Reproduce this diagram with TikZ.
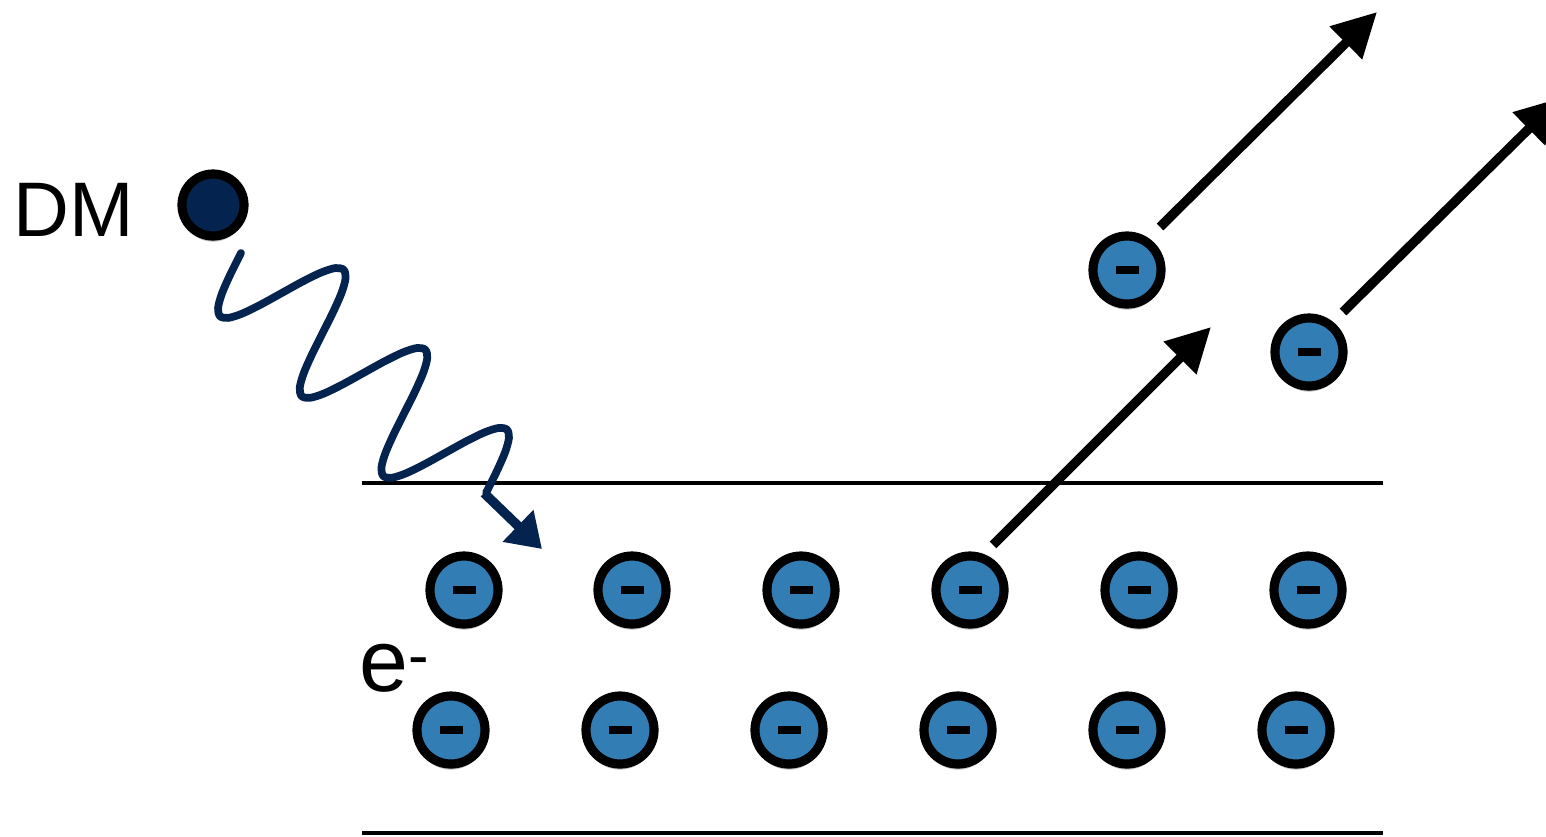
\documentclass[tikz,border=0pt]{standalone}
\usepackage{fontspec}
\setmainfont{Liberation Sans}
\usetikzlibrary{
    arrows.meta,
    shadows,
    calc
}
\definecolor{dmnavy}{HTML}{05234F}
\definecolor{eblue}{HTML}{327DB4}
\newcommand{\minusbar}{\rule{0.23cm}{0.085cm}}

\begin{document}
\begin{tikzpicture}[x=0.01cm, y=-0.01cm,
    electron/.style={circle, draw=black, line width=2.6pt, fill=eblue, minimum size=0.68cm, inner sep=0pt,
        drop shadow={shadow xshift=0pt, shadow yshift=-1.6pt, opacity=0.25, fill=black}},
    dmdot/.style={circle, draw=black, line width=2.6pt, fill=dmnavy, minimum size=0.62cm, inner sep=0pt,
        drop shadow={shadow xshift=0pt, shadow yshift=-1.6pt, opacity=0.25, fill=black}},
    kick/.style={-{Triangle[length=12.5pt, width=12.5pt]}, line width=2.7pt, black},
    mediator/.style={dmnavy, line width=2.2pt, line join=round, line cap=round},
    wavekick/.style={-{Triangle[length=9.5pt, width=12pt]}, line width=2.7pt, dmnavy},
    boundary/.style={line width=0.9pt, black},
    lbl/.style={font=\fontsize{22}{26}\selectfont, inner sep=0pt},
]
    \useasboundingbox (0,0) rectangle (1546,836);

    % layer boundaries
    \coordinate (top0) at (362,483);
    \coordinate (top1) at (1383,483);
    \coordinate (bot0) at (362,833);
    \coordinate (bot1) at (1383,833);
    \draw[boundary] (top0) -- (top1);
    \draw[boundary] (bot0) -- (bot1);

    % bound electrons
    \foreach \i/\x in {1/464, 2/632, 3/801, 4/970, 5/1139, 6/1308}
        \node[electron] (ea\i) at (\x,590) {\minusbar};
    \foreach \i/\x in {1/451, 2/620, 3/789, 4/958, 5/1127, 6/1296}
        \node[electron] (eb\i) at (\x,730) {\minusbar};
    \node[lbl, font=\fontsize{25}{30}\selectfont, anchor=base west] (elabel) at (359,691) {e\raisebox{-0.2em}{\textsuperscript{-}}};

    % ejected electrons
    \node[electron] (f1) at (1127,270) {\minusbar};
    \node[electron] (f2) at (1309,352) {\minusbar};

    % dark matter particle
    \node[dmdot] (dm) at (213,205) {};
    \node[lbl, anchor=base west] (dmlabel) at (13,236) {DM};

    % mediator wave
    \coordinate (w0) at (240,253);
    \coordinate (w1) at (484,493);
    \coordinate (wtip) at (542,549);
    \draw[mediator] plot[smooth, domain=0:344, samples=49, variable=\t]
        ({241 + 0.712*\t - 0.69*60*sin(\t/114.7*360)}, {253 + 0.697*\t + 0.72*60*sin(\t/114.7*360)});
    \draw[wavekick] (w1) -- (wtip);

    % outgoing arrows
    \coordinate (s1) at (1160,227);
    \coordinate (t1) at (1377,12);
    \coordinate (s2) at (1343,312);
    \coordinate (t2) at (1560,98);
    \coordinate (s3) at (993,545);
    \coordinate (t3) at (1211,327);
    \draw[kick] (s1) -- (t1);
    \draw[kick] (s2) -- (t2);
    \draw[kick] (s3) -- (t3);
\end{tikzpicture}
\end{document}
